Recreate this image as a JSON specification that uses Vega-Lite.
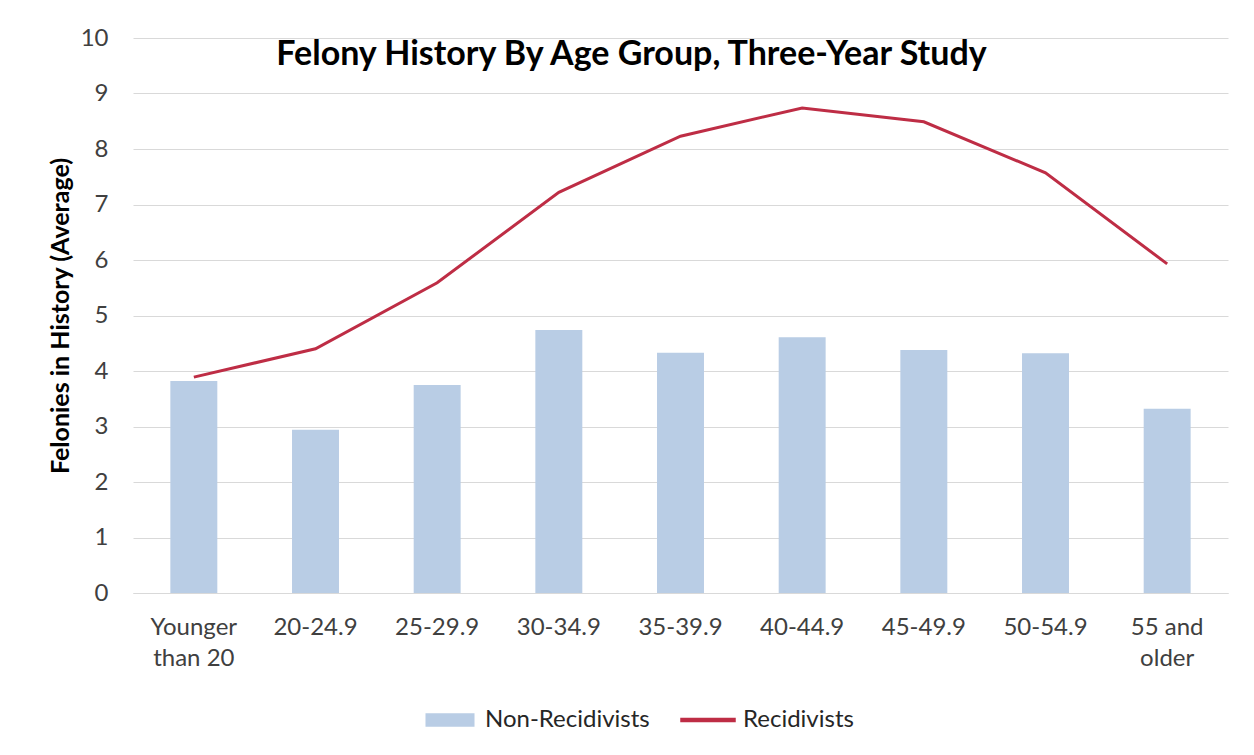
{
  "$schema": "https://vega.github.io/schema/vega-lite/v6.json",
  "autosize": {"type": "none"},
  "width": 1095,
  "height": 555,
  "padding": {"left": 133, "top": 38, "right": 26, "bottom": 162},
  "background": "white",
  "title": {
    "text": "Felony History By Age Group, Three-Year Study",
    "font": "Lato",
    "fontSize": 34,
    "fontWeight": "bold",
    "color": "#000000",
    "anchor": "middle",
    "frame": "group",
    "dx": -49,
    "offset": -46
  },
  "config": {
    "view": {"stroke": null},
    "font": "Lato",
    "axis": {
      "labelFont": "Lato",
      "labelColor": "#404040",
      "labelFontSize": 24,
      "titleFont": "Lato"
    }
  },
  "data": {
    "values": [
      {"age": "Younger than 20", "non": 3.82, "rec": 3.89},
      {"age": "20-24.9", "non": 2.94, "rec": 4.40},
      {"age": "25-29.9", "non": 3.75, "rec": 5.59},
      {"age": "30-34.9", "non": 4.74, "rec": 7.22},
      {"age": "35-39.9", "non": 4.33, "rec": 8.23},
      {"age": "40-44.9", "non": 4.61, "rec": 8.74},
      {"age": "45-49.9", "non": 4.38, "rec": 8.49},
      {"age": "50-54.9", "non": 4.32, "rec": 7.57},
      {"age": "55 and older", "non": 3.32, "rec": 5.93}
    ]
  },
  "encoding": {
    "x": {
      "field": "age",
      "type": "nominal",
      "sort": null,
      "scale": {"paddingInner": 0.614, "paddingOuter": 0.307},
      "axis": {
        "title": null,
        "labelAngle": 0,
        "domain": true,
        "domainColor": "#d9d9d9",
        "ticks": false,
        "grid": false,
        "labelPadding": 22,
        "labelLineHeight": 31,
        "labelExpr": "datum.label == 'Younger than 20' ? ['Younger', 'than 20'] : datum.label == '55 and older' ? ['55 and', 'older'] : datum.label"
      }
    }
  },
  "layer": [
    {
      "mark": {"type": "bar"},
      "encoding": {
        "y": {
          "field": "non",
          "type": "quantitative",
          "scale": {"domain": [0, 10], "nice": false},
          "axis": {
            "title": "Felonies in History (Average)",
            "titleFontSize": 25,
            "titleFontWeight": "bold",
            "titleColor": "#000000",
            "titlePadding": 7,
            "values": [0, 1, 2, 3, 4, 5, 6, 7, 8, 9, 10],
            "grid": true,
            "gridColor": "#d9d9d9",
            "gridWidth": 1,
            "domain": false,
            "ticks": false,
            "labelPadding": 25
          }
        },
        "color": {
          "datum": "Non-Recidivists",
          "type": "nominal",
          "scale": {"domain": ["Non-Recidivists", "Recidivists"], "range": ["#b9cde5", "#be2d45"]},
          "legend": {
            "title": null,
            "orient": "none",
            "direction": "horizontal",
            "legendX": 289,
            "legendY": 654,
            "labelFont": "Lato",
            "labelFontSize": 24,
            "labelColor": "#262626",
            "labelLimit": 400,
            "labelOffset": 7,
            "columnPadding": 28,
            "symbolSize": 2916,
            "encode": {
              "symbols": {
                "update": {
                  "shape": {"signal": "datum.value === 'Recidivists' ? 'M-1,-0.055H1V0.055H-1Z' : 'M-0.88,-0.22H0.88V0.22H-0.88Z'"},
                  "fill": {"signal": "datum.value === 'Recidivists' ? '#be2d45' : '#b9cde5'"},
                  "stroke": {"value": "transparent"},
                  "opacity": {"value": 1}
                }
              }
            }
          }
        }
      }
    },
    {
      "mark": {"type": "line", "strokeWidth": 3},
      "encoding": {
        "y": {"field": "rec", "type": "quantitative"},
        "color": {"datum": "Recidivists", "type": "nominal"}
      }
    }
  ]
}
